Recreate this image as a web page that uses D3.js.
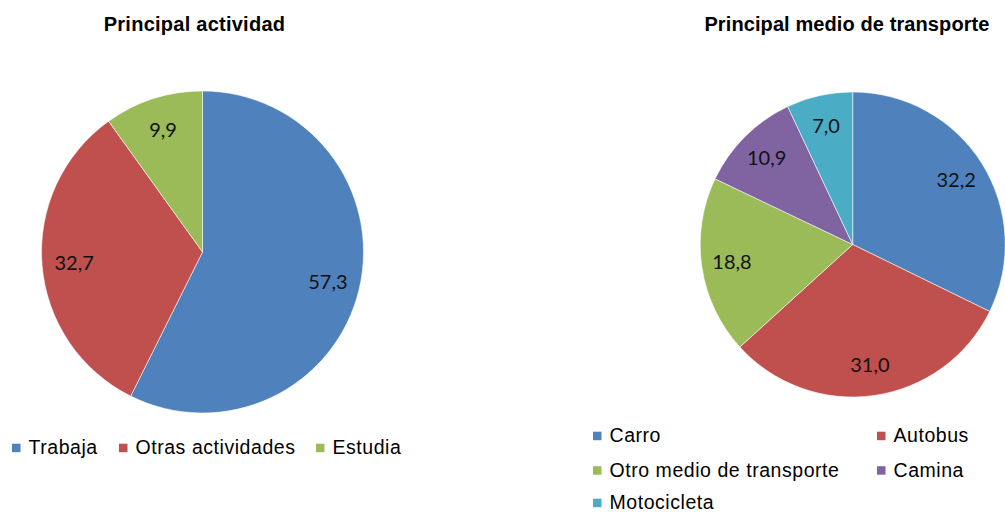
<!DOCTYPE html>
<html><head><meta charset="utf-8">
<script src="https://cdn.jsdelivr.net/npm/d3@7"></script>
<style>
html,body{margin:0;padding:0;background:#fff;overflow:hidden}
svg{display:block}
</style></head>
<body><svg id="c" width="1005" height="512"></svg>
<script>
// Data
const actividadCategories = ["Trabaja", "Otras actividades", "Estudia"];
const actividadValues = [57.3, 32.7, 9.9];
const transporteCategories = ["Carro", "Autobus", "Otro medio de transporte", "Camina", "Motocicleta"];
const transporteValues = [32.2, 31.0, 18.8, 10.9, 7.0];
const titles = ["Principal actividad", "Principal medio de transporte"];
const palette = ["#4F81BD", "#C0504D", "#9BBB59", "#8064A2", "#4BACC6"];

const svg = d3.select("#c");
const fmt = v => d3.format(".1f")(v).replace(".", ",");

function drawPie(cats, vals, cx, cy, r, labelFrac) {
  const data = cats.map((c, i) => ({cat: c, value: vals[i], color: palette[i]}));
  const pie = d3.pie().sort(null).value(d => d.value);
  const arc = d3.arc().innerRadius(0).outerRadius(r);
  const labelArc = d3.arc().innerRadius(r * labelFrac).outerRadius(r * labelFrac);
  const g = svg.append("g").attr("transform", `translate(${cx},${cy})`);
  const arcs = pie(data);
  g.selectAll("path").data(arcs).join("path")
    .attr("d", arc).attr("fill", d => d.data.color)
    .attr("stroke", "#ffffff").attr("stroke-width", 0.8).attr("stroke-opacity", 0.7);
  g.selectAll("text").data(arcs).join("text")
    .attr("transform", d => `translate(${labelArc.centroid(d)})`)
    .attr("text-anchor", "middle").attr("dy", "0.36em")
    .attr("font-family", "Lato, 'Open Sans', sans-serif").attr("font-size", 20)
    .attr("fill", "#111").text(d => fmt(d.data.value));
}

drawPie(actividadCategories, actividadValues, 202.5, 252, 161, 0.8);
drawPie(transporteCategories, transporteValues, 852.7, 244.5, 152.5, 0.8);

// Titles
svg.append("text").attr("x", 194.5).attr("y", 31).attr("text-anchor", "middle")
  .attr("font-family", "'Liberation Sans', Arial, sans-serif").attr("font-weight", "bold")
  .attr("font-size", 20).attr("letter-spacing", 0.25).attr("fill", "#000").text(titles[0]);
svg.append("text").attr("x", 847).attr("y", 31).attr("text-anchor", "middle")
  .attr("font-family", "'Liberation Sans', Arial, sans-serif").attr("font-weight", "bold")
  .attr("font-size", 20).attr("letter-spacing", 0.1).attr("fill", "#000").text(titles[1]);

// Legends
function legend(items, positions) {
  const g = svg.append("g");
  items.forEach((t, i) => {
    const [x, y] = positions[i];
    g.append("rect").attr("x", x).attr("y", y - 10.3).attr("width", 8.5).attr("height", 8.5).attr("fill", palette[i]);
    g.append("text").attr("x", x + 16.5).attr("y", y)
      .attr("font-family", "'Liberation Sans', Arial, sans-serif").attr("font-size", 19.5)
      .attr("letter-spacing", 0.55).attr("fill", "#000").text(t);
  });
}
legend(actividadCategories, [[12, 454], [119, 454], [316, 454]]);
legend(transporteCategories, [[593, 442], [877, 442], [593, 476.5], [877, 476.5], [593, 509]]);
</script></body></html>
